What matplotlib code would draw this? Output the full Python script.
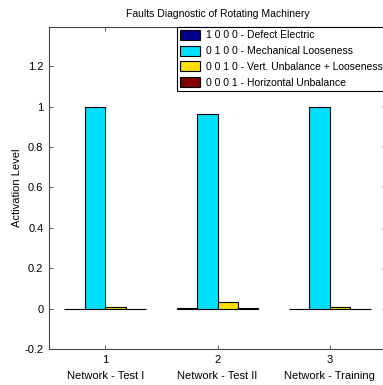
import numpy as np
import matplotlib
matplotlib.use("Agg")
import matplotlib.pyplot as plt

plt.rcParams['font.family'] = ['Liberation Sans Narrow', 'Liberation Sans', 'DejaVu Sans']

# data
groups = [1, 2, 3]
group_names = ["Network - Test I", "Network - Test II", "Network - Training"]
series_labels = ["1 0 0 0 - Defect Electric",
                 "0 1 0 0 - Mechanical Looseness",
                 "0 0 1 0 - Vert. Unbalance + Looseness",
                 "0 0 0 1 - Horizontal Unbalance"]
defect_electric = [0.0, 0.004, 0.0]
mech_looseness = [0.997, 0.964, 0.997]
vert_unbalance = [0.010, 0.033, 0.010]
horiz_unbalance = [0.0, 0.004, 0.0]
series = [defect_electric, mech_looseness, vert_unbalance, horiz_unbalance]
colors = ['#000088', '#00DFFF', '#FFDF00', '#800000']

fig = plt.figure(figsize=(3.83, 3.85), dpi=100)
ax = fig.add_axes([0.128, 0.0935, 0.880, 0.837])

# matlab style grouped bars
n = len(series)
gw = min(0.8, n / (n + 1.5))
bw = gw / n
x = np.array(groups, dtype=float)
for i, vals in enumerate(series):
    off = -gw / 2 + (2 * i + 1) * gw / (2 * n)
    ax.bar(x + off, vals, width=bw, color=colors[i], edgecolor='black',
           linewidth=0.8, label=series_labels[i])

ax.set_xlim(0.5, 3.5)
ax.set_ylim(-0.2, 1.395)
ax.set_yticks(np.arange(-0.2, 1.21, 0.2))
ax.set_yticklabels(['-0.2', '0', '0.2', '0.4', '0.6', '0.8', '1', '1.2'])
ax.set_xticks(groups)
ax.set_xticklabels([f"{g}\n{name}" for g, name in zip(groups, group_names)],
                   linespacing=1.75)
ax.tick_params(direction='in', top=True, right=True, length=3, width=0.6,
               labelsize=8, color='#444444', pad=4)
for sp in ax.spines.values():
    sp.set_color('#444444')
    sp.set_linewidth(0.8)

ax.set_ylabel("Activation Level", fontsize=8, labelpad=2)
ax.set_title("Faults Diagnostic of Rotating Machinery", fontsize=7.5, pad=7)

leg = ax.legend(loc='upper right', borderaxespad=0, fontsize=7.5, fancybox=False,
                edgecolor='black', framealpha=1, handlelength=1.9, handleheight=1.1,
                labelspacing=0.5, borderpad=0.3, handletextpad=0.6)
leg.get_frame().set_linewidth(0.8)

fig.savefig("out.png", dpi=100)
